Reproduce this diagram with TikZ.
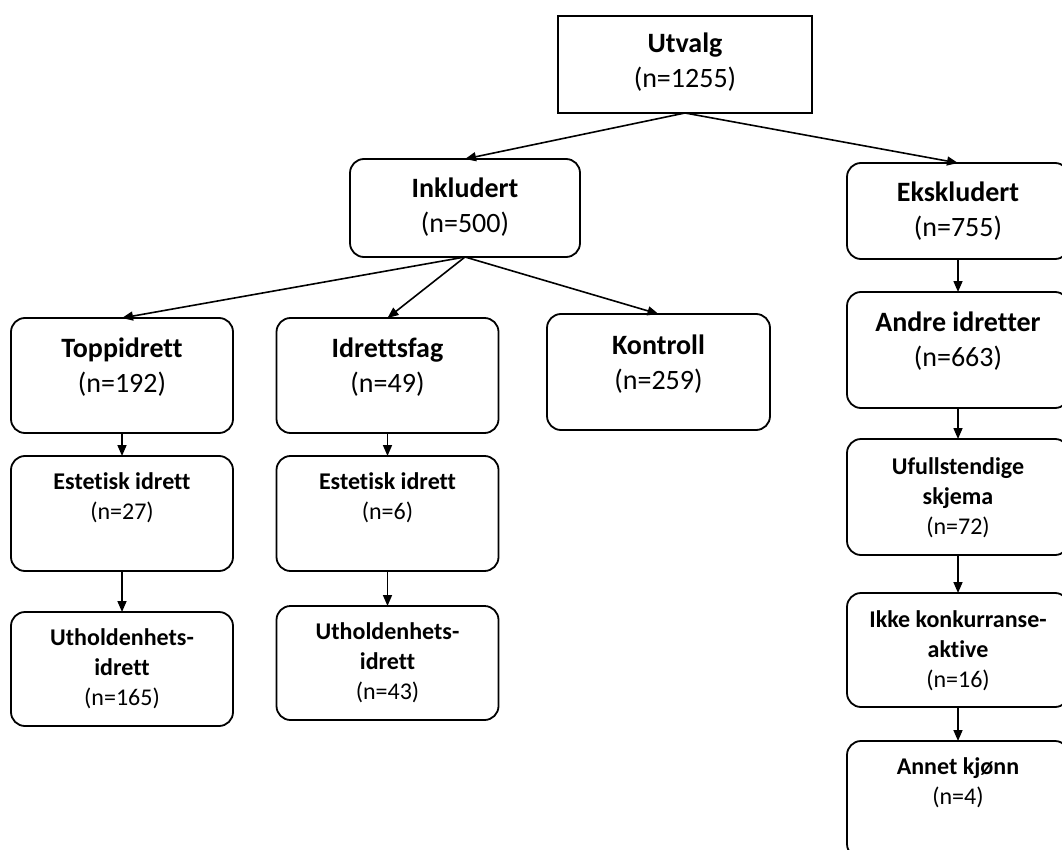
\documentclass[tikz,border=0pt]{standalone}
\usepackage{fontspec}
\setmainfont{Carlito}[Ligatures=NoCommon]
\usetikzlibrary{arrows.meta}
\tikzset{
  sqbox/.style={draw, line width=1.8pt, inner sep=0pt, outer sep=0pt},
  rbox/.style={draw, line width=1.8pt, rounded corners=14pt, inner sep=0pt, outer sep=0pt},
  bigtxt/.style={font=\fontsize{28}{35}\selectfont, align=center, inner sep=0pt, anchor=north, yshift=-#1},
  smalltxt/.style={font=\fontsize{24}{30}\selectfont, align=center, inner sep=0pt, anchor=north, yshift=-#1},
  arr/.style={line width=1.6pt, -{Triangle[length=11pt,width=9pt]}}
}
\newcommand{\bigstrut}{\rule{0pt}{22pt}}
\newcommand{\smlstrut}{\rule{0pt}{18pt}}
\begin{document}
\begin{tikzpicture}[x=1pt,y=-1pt]
\clip (0,0) rectangle (1062,850);
% boxes
\node[sqbox, minimum width=254pt, minimum height=97pt] (utv) at (685,64.5) {};
\node[rbox, minimum width=230pt, minimum height=98pt] (ink) at (465,208) {};
\node[rbox, minimum width=222pt, minimum height=96pt] (eks) at (958,211) {};
\node[rbox, minimum width=222pt, minimum height=115pt] (topp) at (122,375.5) {};
\node[rbox, minimum width=222pt, minimum height=115pt] (idr) at (387.5,375.5) {};
\node[rbox, minimum width=223pt, minimum height=116pt] (kon) at (658.5,372) {};
\node[rbox, minimum width=222pt, minimum height=116pt] (andre) at (958,350) {};
\node[rbox, minimum width=222pt, minimum height=115pt] (estL) at (122,513.5) {};
\node[rbox, minimum width=222pt, minimum height=115pt] (estM) at (387.5,513.5) {};
\node[rbox, minimum width=222pt, minimum height=114pt] (uthL) at (122,669) {};
\node[rbox, minimum width=222pt, minimum height=114pt] (uthM) at (387.5,663) {};
\node[rbox, minimum width=222pt, minimum height=116pt] (ufull) at (958,497) {};
\node[rbox, minimum width=222pt, minimum height=114pt] (ikke) at (958,650) {};
\node[rbox, minimum width=222pt, minimum height=117pt] (annet) at (958,799.5) {};
% texts
\node[bigtxt=14pt] (tutv) at (utv.north) {\bigstrut\textbf{Utvalg}\\(n=1255)};
\node[bigtxt=16pt] (tink) at (ink.north) {\bigstrut\textbf{Inkludert}\\(n=500)};
\node[bigtxt=16pt] (teks) at (eks.north) {\bigstrut\textbf{Ekskludert}\\(n=755)};
\node[bigtxt=17pt] (ttopp) at (topp.north) {\bigstrut\textbf{Toppidrett}\\(n=192)};
\node[bigtxt=17pt] (tidr) at (idr.north) {\bigstrut\textbf{Idrettsfag}\\(n=49)};
\node[bigtxt=18pt] (tkon) at (kon.north) {\bigstrut\textbf{Kontroll}\\(n=259)};
\node[bigtxt=17pt] (tandre) at (andre.north) {\bigstrut\textbf{Andre idretter}\\(n=663)};
\node[smalltxt=15.5pt] (testL) at (estL.north) {\smlstrut\textbf{Estetisk idrett}\\(n=27)};
\node[smalltxt=15.5pt] (testM) at (estM.north) {\smlstrut\textbf{Estetisk idrett}\\(n=6)};
\node[smalltxt=15.5pt] (tuthL) at (uthL.north) {\smlstrut\textbf{Utholdenhets-}\\\textbf{idrett}\\(n=165)};
\node[smalltxt=15.5pt] (tuthM) at (uthM.north) {\smlstrut\textbf{Utholdenhets-}\\\textbf{idrett}\\(n=43)};
\node[smalltxt=17.5pt] (tufull) at (ufull.north) {\smlstrut\textbf{Ufullstendige}\\\textbf{skjema}\\(n=72)};
\node[smalltxt=16.5pt] (tikke) at (ikke.north) {\smlstrut\textbf{Ikke konkurranse-}\\\textbf{aktive}\\(n=16)};
\node[smalltxt=15.5pt] (tannet) at (annet.north) {\smlstrut\textbf{Annet kjønn}\\(n=4)};
% connectors
\draw[arr] (utv.south) -- (ink.north);
\draw[arr] (utv.south) -- (eks.north);
\draw[arr] (ink.south) -- (topp.north);
\draw[arr] (ink.south) -- (idr.north);
\draw[arr] (ink.south) -- (kon.north);
\draw[arr] (topp.south) -- (estL.north);
\draw[arr] (estL.south) -- (uthL.north);
\draw[arr] (idr.south) -- (estM.north);
\draw[arr] (estM.south) -- (uthM.north);
\draw[arr] (eks.south) -- (andre.north);
\draw[arr] (andre.south) -- (ufull.north);
\draw[arr] (ufull.south) -- (ikke.north);
\draw[arr] (ikke.south) -- (annet.north);
\end{tikzpicture}
\end{document}
